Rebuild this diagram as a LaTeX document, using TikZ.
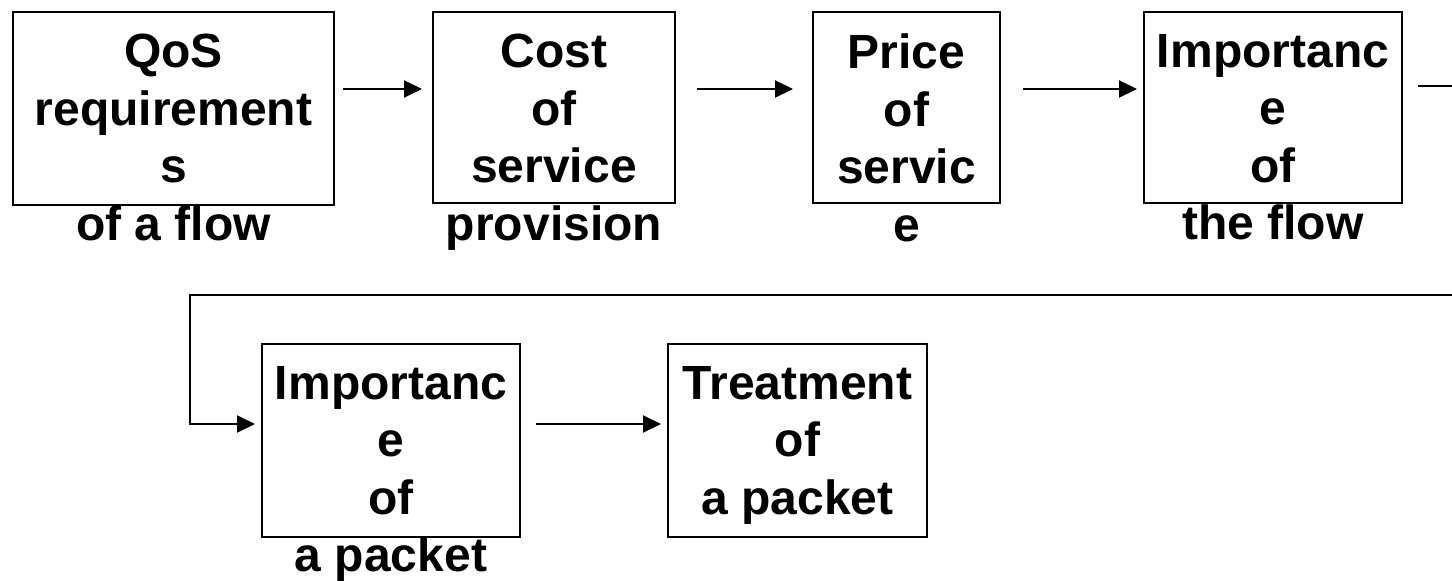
\documentclass[tikz,border=0pt]{standalone}
\usepackage{fontspec}
\setmainfont{Liberation Sans}
\usetikzlibrary{arrows.meta}
\begin{document}
\begin{tikzpicture}[x=1pt,y=-1pt,
  box/.style={draw, line width=2pt, inner sep=0pt, outer sep=0pt},
  boxtext/.style={anchor=north, align=center, inner sep=0pt,
    font=\fontsize{48}{57.5}\selectfont\bfseries},
  link/.style={line width=2pt, -{Triangle[length=18pt,width=17pt]}},
  plain/.style={line width=2pt}]
\useasboundingbox (0,0) rectangle (1452,581);
\clip (0,0) rectangle (1452,581);

% first row
\node[box, minimum width=321pt, minimum height=193pt] (b1) at (173.5,108.5) {};
\node[box, minimum width=242pt, minimum height=191pt] (b2) at (554,107.5) {};
\node[box, minimum width=187pt, minimum height=191pt] (b3) at (906.5,107.5) {};
\node[box, minimum width=258pt, minimum height=191pt] (b4) at (1273,107.5) {};
% second row
\node[box, minimum width=258pt, minimum height=193pt] (b5) at (391,440.5) {};
\node[box, minimum width=259pt, minimum height=193pt] (b6) at (797.5,440.5) {};

% labels (they run past the lower edge of their frames)
\node[boxtext] (t1) at ([yshift=-22pt]b1.north) {QoS\\requirement\\s\\of a flow};
\node[boxtext] (t2) at ([yshift=-22pt]b2.north) {Cost\\of\\service\\provision};
\node[boxtext] (t3) at ([yshift=-22pt]b3.north) {Price\\of\\servic\\e};
\node[boxtext] (t4) at ([yshift=-22pt]b4.north) {Importanc\\e\\of\\the flow};
\node[boxtext] (t5) at ([yshift=-22pt]b5.north) {Importanc\\e\\of\\a packet};
\node[boxtext] (t6) at ([yshift=-22pt]b6.north) {Treatment\\of\\a packet};

% connectors
\draw[link, shorten <=9pt, shorten >=11pt]
  ([yshift=19.5pt]b1.east) -- ([yshift=19.5pt]b1.east -| b2.west);
\draw[link, shorten <=22pt, shorten >=20pt]
  ([yshift=18.5pt]b2.east) -- ([yshift=18.5pt]b2.east -| b3.west);
\draw[link, shorten <=23pt, shorten >=7pt]
  ([yshift=18.5pt]b3.east) -- ([yshift=18.5pt]b3.east -| b4.west);

% return line from the end of the first row to the second row
\coordinate (r1) at (1490,86);
\coordinate (r2) at (1490,295);
\coordinate (l1) at (190,295);
\coordinate (l2) at (190,424);
\draw[link, shorten >=7pt]
  ([yshift=21.5pt]b4.east) ++(16,0) -- (r1) -- (r2) -- (l1) -- (l2)
  -- (l2 -| b5.west);

\draw[link, shorten <=16pt, shorten >=7pt]
  ([yshift=16.5pt]b5.east) -- ([yshift=16.5pt]b5.east -| b6.west);
\end{tikzpicture}
\end{document}
